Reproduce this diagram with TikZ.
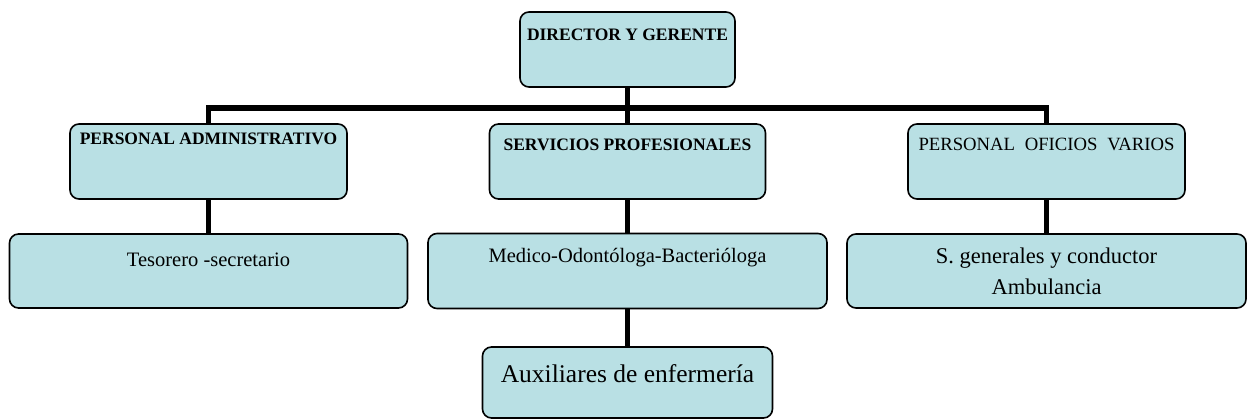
\documentclass[tikz,border=0pt]{standalone}
\usepackage{fontspec}
\setmainfont{Liberation Serif}
\usepackage{tikz}
\usetikzlibrary{trees}
\definecolor{celeste}{RGB}{185,224,228}

\tikzset{
	caja/.style={rectangle, draw, rounded corners=9pt, line width=1.6pt, fill=celeste, inner sep=0pt, align=center},
	titulo/.style={font=\fontsize{17.5}{21}\selectfont\bfseries},
	cargo/.style={font=\fontsize{20.5}{24}\selectfont}
}

\begin{document}
\begin{tikzpicture}[
	level 1/.style={sibling distance=419pt, level distance=112pt},
	level 2/.style={level distance=109.5pt},
	level 3/.style={level distance=111.5pt},
	edge from parent/.style={draw, line width=5.5pt},
	edge from parent path={(\tikzparentnode.south) -- ++(0pt,-20pt) -| (\tikzchildnode.north)}]
	\useasboundingbox (0pt,0pt) rectangle (1251pt,-419pt);
	\node [caja, titulo, minimum width=215pt, text height=29pt, text depth=46pt] (dir) at (627.5pt,-49.5pt) {DIRECTOR Y GERENTE}
		child {
			node [caja, titulo, minimum width=277pt, text height=21pt, text depth=54pt] (admin) {PERSONAL ADMINISTRATIVO}
				child {
					node [caja, cargo, minimum width=398pt, text height=33pt, text depth=41pt] (tesorero) {Tesorero -secretario}
				}
		}
		child {
			node [caja, titulo, minimum width=276pt, text height=27pt, text depth=48pt] (servicios) {SERVICIOS PROFESIONALES}
				child {
					node [caja, cargo, minimum width=399pt, text height=29pt, text depth=46pt] (medico) {Medico-Odontóloga-Bacterióloga}
						child {
							node [caja, font=\fontsize{25.5}{30}\selectfont, minimum width=290pt, text height=36pt, text depth=35pt] (auxiliares) {Auxiliares de enfermería}
						}
				}
		}
		child {
			node [caja, font=\fontsize{18.7}{22}\selectfont, minimum width=277pt, text height=27pt, text depth=48pt] (oficios) {\makebox[256pt][s]{PERSONAL OFICIOS VARIOS}}
				child {
					node [caja, font=\fontsize{22.5}{31}\selectfont, minimum width=399pt, minimum height=74pt] (generales) {S. generales y conductor\\Ambulancia}
				}
		};
\end{tikzpicture}
\end{document}
